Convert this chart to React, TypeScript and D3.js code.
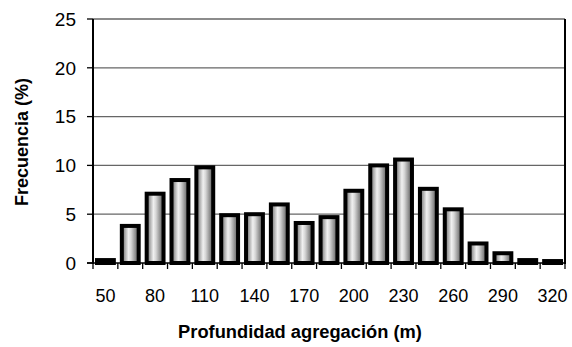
import React from "react";
import * as d3 from "d3";

const categories: number[] = [50, 65, 80, 95, 110, 125, 140, 155, 170, 185, 200, 215, 230, 245, 260, 275, 290, 305, 320];
const frecuencia: number[] = [0.3, 3.8, 7.1, 8.5, 9.8, 4.9, 5.0, 6.0, 4.1, 4.7, 7.4, 10.0, 10.6, 7.6, 5.5, 2.0, 1.0, 0.3, 0.2];
const yTicks: number[] = [0, 5, 10, 15, 20, 25];
const xLabels: number[] = [50, 80, 110, 140, 170, 200, 230, 260, 290, 320];

const W = 572, H = 347;
const M = { left: 93, right: 7, top: 19, bottom: 84 };

export default function App() {
  const x = d3.scaleBand<number>().domain(categories).range([M.left, W - M.right]).paddingInner(0.16).paddingOuter(0.08);
  const y = d3.scaleLinear().domain([0, 25]).range([H - M.bottom, M.top]);
  const font = "'Liberation Sans', Arial, sans-serif";
  const x0 = M.left, x1 = W - M.right, yb = y(0);
  const step = (x1 - x0) / categories.length;
  const bounds = categories.map((_, i) => x0 + i * step);
  bounds.push(x1);
  const center = (c: number) => x0 + (categories.indexOf(c) + 0.5) * step;
  return (
    <svg width={W} height={H} style={{ position: "absolute", left: 0, top: 0, background: "#fff" }}>
      <defs>
        <linearGradient id="barGrad" x1="0" x2="1" y1="0" y2="0">
          <stop offset="0" stopColor="#666" />
          <stop offset="0.4" stopColor="#f0f0f0" />
          <stop offset="0.55" stopColor="#d6d6d6" />
          <stop offset="1" stopColor="#555" />
        </linearGradient>
      </defs>
      {yTicks.filter(t => t > 0).map(t => (
        <line key={t} x1={x0} x2={x1} y1={y(t)} y2={y(t)} stroke="#666" strokeWidth={1.3} />
      ))}
      {categories.map((c, i) => {
        const cx = center(c);
        const bw = step * 0.84;
        const v = frecuencia[i];
        const top = y(v);
        return (
          <rect key={c} x={cx - bw / 2 + 2} y={top} width={bw - 4} height={Math.max(yb - top, 0)}
            fill="url(#barGrad)" stroke="#000" strokeWidth={4} />
        );
      })}
      <line x1={x0} x2={x0} y1={M.top} y2={yb + 1} stroke="#000" strokeWidth={2} />
      <line x1={x1} x2={x1} y1={M.top} y2={yb + 1} stroke="#000" strokeWidth={2} />
      <line x1={x0 - 6} x2={x1} y1={yb} y2={yb} stroke="#000" strokeWidth={1.5} />
      {yTicks.map(t => (
        <g key={t}>
          <line x1={x0 - 6} x2={x0} y1={y(t)} y2={y(t)} stroke="#000" strokeWidth={1.3} />
          <text x={x0 - 17} y={y(t)} dy="0.36em" textAnchor="end" fontFamily={font} fontSize={19}>{t}</text>
        </g>
      ))}
      {bounds.map((b, i) => (
        <line key={i} x1={b} x2={b} y1={yb} y2={yb + 6} stroke="#000" strokeWidth={1.3} />
      ))}
      {xLabels.map(l => (
        <text key={l} x={center(l)} y={302} textAnchor="middle" fontFamily={font} fontSize={18}>{l}</text>
      ))}
      <text x={300} y={338} textAnchor="middle" fontFamily={font} fontSize={18.3} fontWeight="bold">Profundidad agregación (m)</text>
      <text transform={`translate(28,${(M.top + yb) / 2 + 1}) rotate(-90)`} textAnchor="middle" fontFamily={font} fontSize={18} fontWeight="bold">Frecuencia (%)</text>
    </svg>
  );
}
